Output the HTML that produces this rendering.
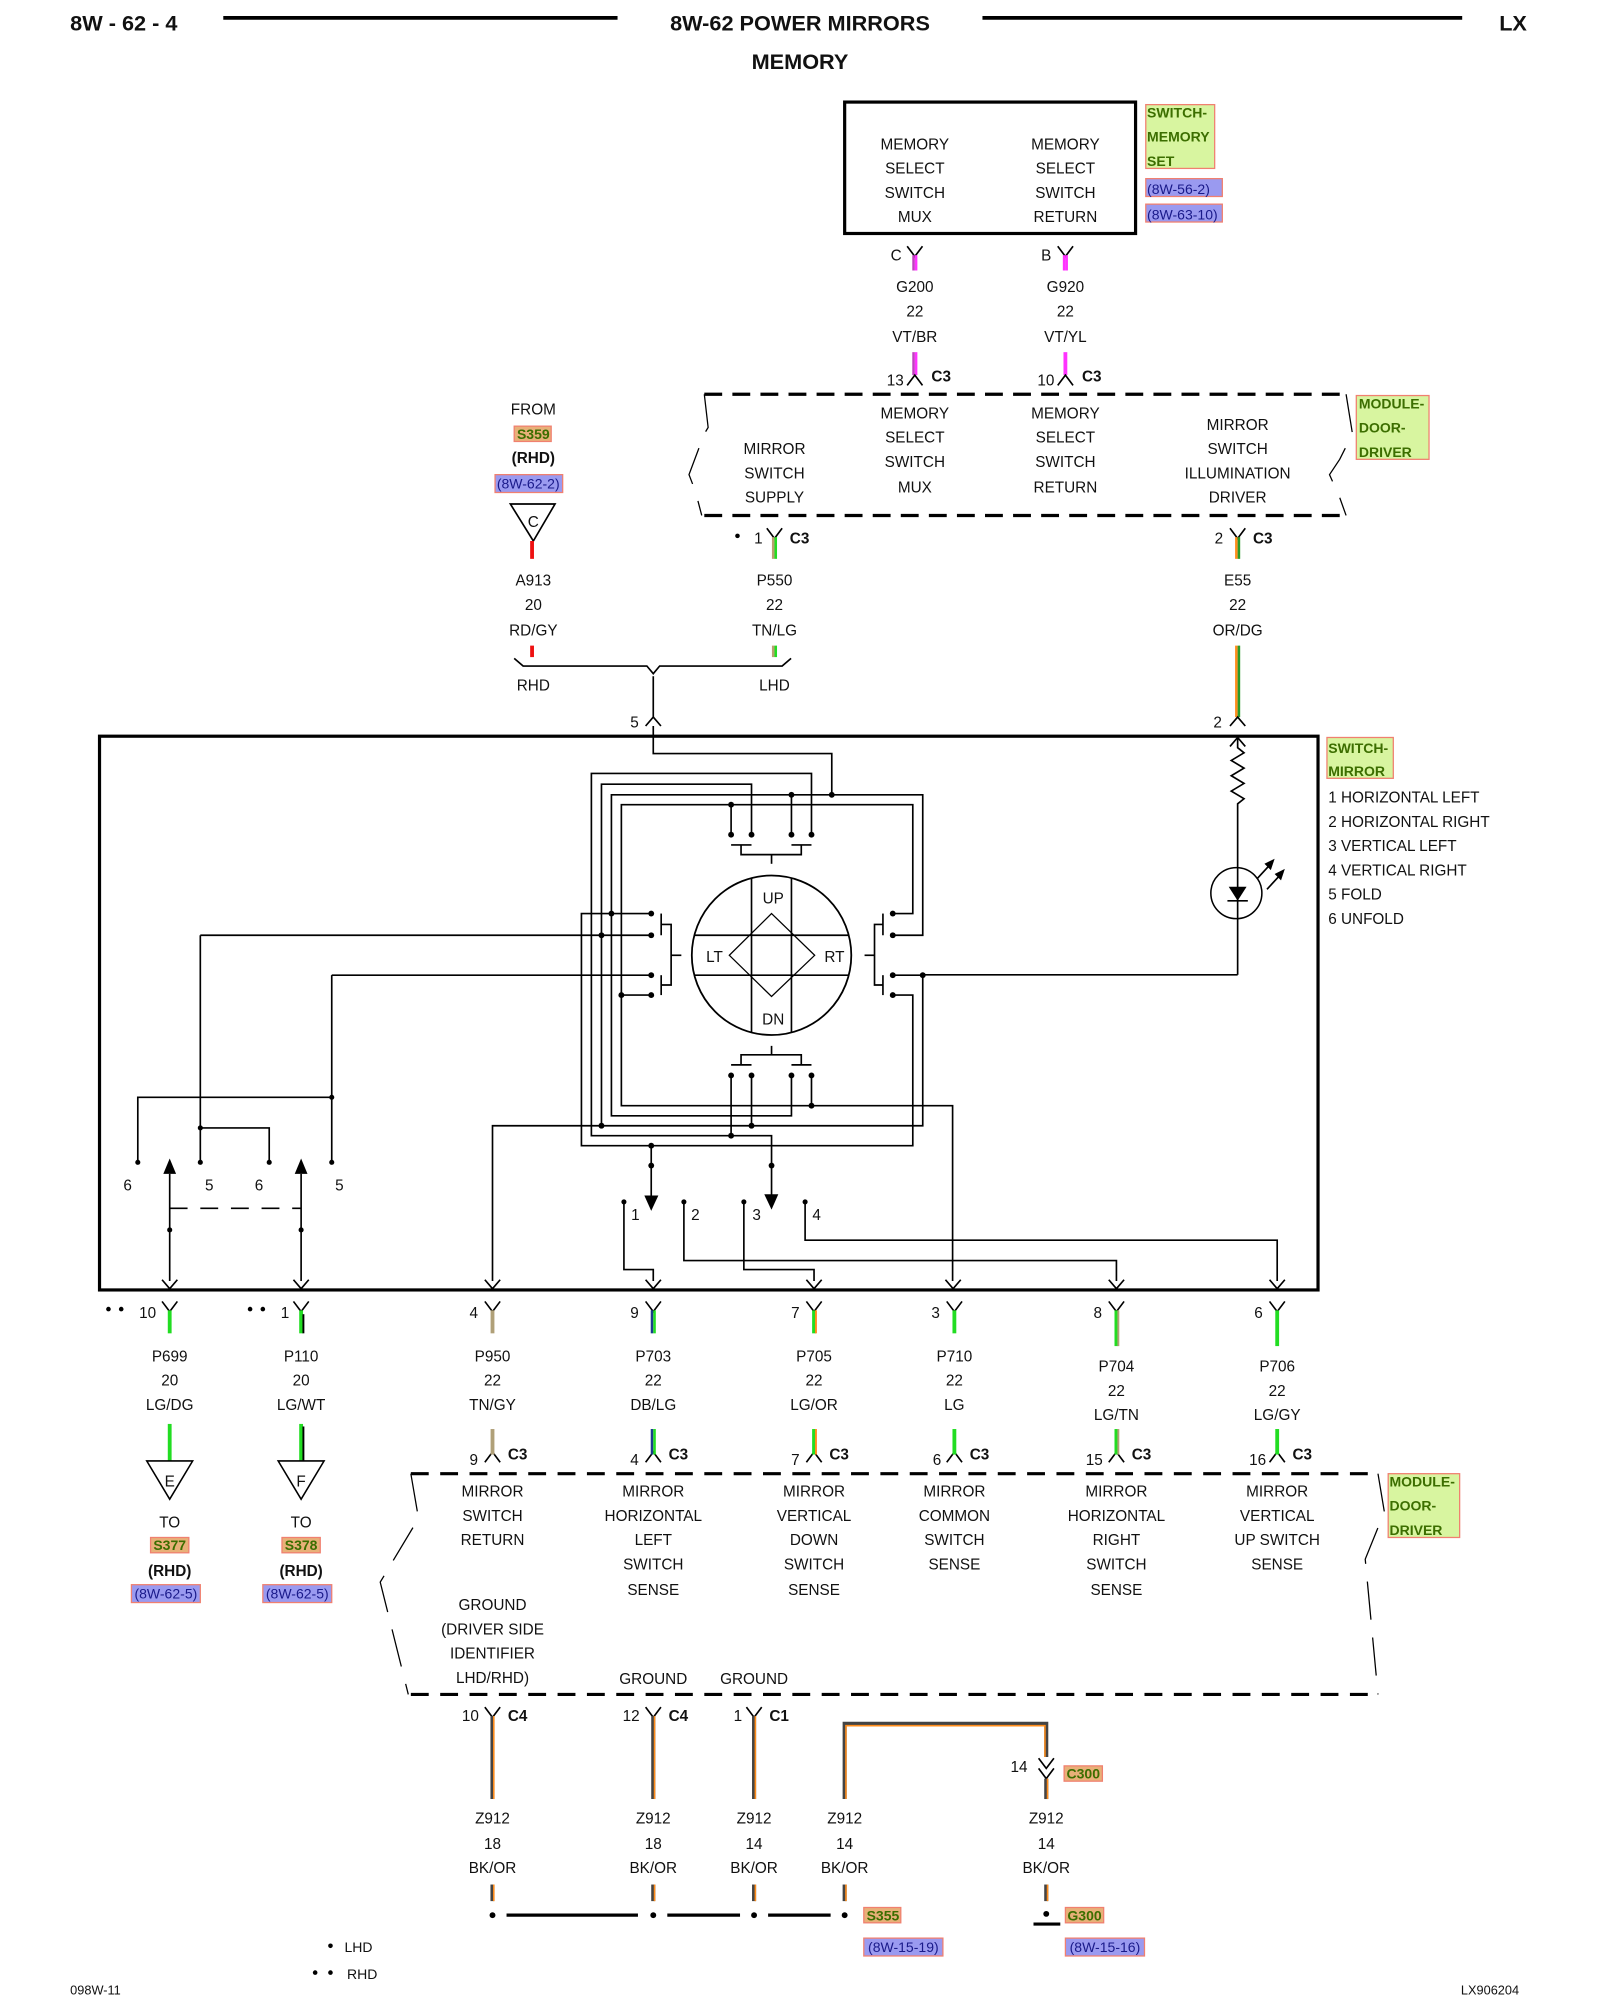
<!DOCTYPE html>
<html><head><meta charset="utf-8"><style>
html,body{margin:0;padding:0;background:#fff;}
svg{display:block;}
text{font-family:"Liberation Sans",sans-serif;font-size:12px;fill:#111;}
.m{text-anchor:middle;}
.b{font-weight:bold;}
.h{font-size:17px;font-weight:bold;}
.lg{font-size:11px;font-weight:bold;fill:#3c6e00;}
.rf{font-size:11px;fill:#1a1a8a;}
.w{stroke:#000;stroke-width:1.3;fill:none;}
</style></head><body>
<svg width="1600" height="2000" viewBox="0 0 1254 1567.5" preserveAspectRatio="xMinYMin meet" xmlns="http://www.w3.org/2000/svg">
<rect width="1254" height="1567.5" fill="#fff"/>
<!-- header -->
<text x="55" y="24" class="h">8W - 62 - 4</text>
<line x1="175" y1="14" x2="484" y2="14" stroke="#000" stroke-width="3"/>
<text x="627" y="24" class="h m">8W-62 POWER MIRRORS</text>
<line x1="770" y1="14" x2="1146" y2="14" stroke="#000" stroke-width="3"/>
<text x="1175" y="24" class="h">LX</text>
<text x="627" y="54" class="h m">MEMORY</text>

<!-- top switch box -->
<rect x="662" y="80" width="228" height="103" fill="none" stroke="#000" stroke-width="2.5"/>
<g class="m">
<text x="717" y="117" class="m">MEMORY</text><text x="717" y="136" class="m">SELECT</text><text x="717" y="155" class="m">SWITCH</text><text x="717" y="174" class="m">MUX</text>
<text x="835" y="117" class="m">MEMORY</text><text x="835" y="136" class="m">SELECT</text><text x="835" y="155" class="m">SWITCH</text><text x="835" y="174" class="m">RETURN</text>
</g>
<rect x="898" y="82" width="54" height="50" fill="#d8f5a0" stroke="#f08070"/>
<text x="899" y="92" class="lg">SWITCH-</text><text x="899" y="111" class="lg">MEMORY</text><text x="899" y="130" class="lg">SET</text>
<rect x="898" y="140" width="60" height="14" fill="#9a9af0" stroke="#f08070"/><text x="899" y="152" class="rf">(8W-56-2)</text>
<rect x="898" y="160" width="60" height="14" fill="#9a9af0" stroke="#f08070"/><text x="899" y="172" class="rf">(8W-63-10)</text>

<!-- memory wires -->
<polyline points="711,193 717,201 723,193" class="w"/><polyline points="829,193 835,201 841,193" class="w"/>
<text x="698" y="204">C</text><text x="816" y="204">B</text>
<line x1="716" y1="200" x2="716" y2="212" stroke="#c040c0" stroke-width="2"/><line x1="718" y1="200" x2="718" y2="212" stroke="#ff33ff" stroke-width="2"/>
<line x1="834" y1="200" x2="834" y2="212" stroke="#ff33ff" stroke-width="2"/><line x1="836" y1="200" x2="836" y2="212" stroke="#ff33ff" stroke-width="2"/>
<text x="717" y="229" class="m">G200</text><text x="717" y="248" class="m">22</text><text x="717" y="268" class="m">VT/BR</text>
<text x="835" y="229" class="m">G920</text><text x="835" y="248" class="m">22</text><text x="835" y="268" class="m">VT/YL</text>
<line x1="716" y1="276" x2="716" y2="294" stroke="#c040c0" stroke-width="2"/><line x1="718" y1="276" x2="718" y2="294" stroke="#ff33ff" stroke-width="2"/>
<line x1="835" y1="276" x2="835" y2="294" stroke="#ff33ff" stroke-width="3"/>
<polyline points="711,302 717,294 723,302" class="w"/><polyline points="829,302 835,294 841,302" class="w"/>
<text x="695" y="302">13</text><text x="730" y="299" class="b">C3</text>
<text x="813" y="302">10</text><text x="848" y="299" class="b">C3</text>

<!-- module upper -->
<line x1="552" y1="309" x2="1055" y2="309" stroke="#000" stroke-width="2.5" stroke-dasharray="14,8"/>
<line x1="552" y1="404" x2="1055" y2="404" stroke="#000" stroke-width="2.5" stroke-dasharray="14,8"/>
<polyline points="552,309 555,335 552,340 540,372 545,385 550,404" fill="none" stroke="#000" stroke-width="1" stroke-dasharray="30,14"/>
<polyline points="1055,309 1060,340 1050,360 1042,372 1050,390 1055,404" fill="none" stroke="#000" stroke-width="1" stroke-dasharray="30,14"/>
<text x="607" y="356" class="m">MIRROR</text><text x="607" y="375" class="m">SWITCH</text><text x="607" y="394" class="m">SUPPLY</text>
<text x="717" y="328" class="m">MEMORY</text><text x="717" y="347" class="m">SELECT</text><text x="717" y="366" class="m">SWITCH</text><text x="717" y="386" class="m">MUX</text>
<text x="835" y="328" class="m">MEMORY</text><text x="835" y="347" class="m">SELECT</text><text x="835" y="366" class="m">SWITCH</text><text x="835" y="386" class="m">RETURN</text>
<text x="970" y="337" class="m">MIRROR</text><text x="970" y="356" class="m">SWITCH</text><text x="970" y="375" class="m">ILLUMINATION</text><text x="970" y="394" class="m">DRIVER</text>
<rect x="1063" y="310" width="57" height="50" fill="#d8f5a0" stroke="#f08070"/>
<text x="1065" y="320" class="lg">MODULE-</text><text x="1065" y="339" class="lg">DOOR-</text><text x="1065" y="358" class="lg">DRIVER</text>

<!-- supply side -->
<circle cx="578" cy="420" r="1.8"/>
<polyline points="601,414 607,422 613,414" class="w"/><text x="591" y="426">1</text><text x="619" y="426" class="b">C3</text>
<line x1="606" y1="421" x2="606" y2="438" stroke="#b8a070" stroke-width="2"/><line x1="608" y1="421" x2="608" y2="438" stroke="#22dd22" stroke-width="2"/>
<text x="607" y="459" class="m">P550</text><text x="607" y="478" class="m">22</text><text x="607" y="498" class="m">TN/LG</text>
<line x1="606" y1="506" x2="606" y2="515" stroke="#b8a070" stroke-width="2"/><line x1="608" y1="506" x2="608" y2="515" stroke="#22dd22" stroke-width="2"/>
<text x="418" y="325" class="m">FROM</text>
<rect x="403" y="334" width="29" height="12" fill="#e8b078" stroke="#f08070"/><text x="418" y="344" class="m lg">S359</text>
<text x="418" y="363" class="m b">(RHD)</text>
<rect x="388" y="372" width="53" height="14" fill="#9a9af0" stroke="#f08070"/><text x="414" y="383" class="m rf">(8W-62-2)</text>
<polygon points="400,395 435,395 418,424" fill="#fff" stroke="#000" stroke-width="1.3"/><text x="418" y="413" class="m">C</text>
<line x1="417" y1="424" x2="417" y2="438" stroke="#ee1111" stroke-width="3"/>
<text x="418" y="459" class="m">A913</text><text x="418" y="478" class="m">20</text><text x="418" y="498" class="m">RD/GY</text>
<line x1="417" y1="506" x2="417" y2="515" stroke="#ee1111" stroke-width="3"/>
<polyline points="403,516 410,522 507,522 512,528 517,522 613,522 620,516" class="w"/>
<text x="418" y="541" class="m">RHD</text><text x="607" y="541" class="m">LHD</text>
<line x1="512" y1="530" x2="512" y2="562" class="w"/>
<polyline points="506,569 512,562 518,569" class="w"/><text x="494" y="570">5</text>

<!-- E55 -->
<polyline points="964,414 970,422 976,414" class="w"/><text x="952" y="426">2</text><text x="982" y="426" class="b">C3</text>
<line x1="969" y1="421" x2="969" y2="438" stroke="#ff8c1a" stroke-width="2"/><line x1="971" y1="421" x2="971" y2="438" stroke="#2a9a2a" stroke-width="2"/>
<text x="970" y="459" class="m">E55</text><text x="970" y="478" class="m">22</text><text x="970" y="498" class="m">OR/DG</text>
<line x1="969" y1="506" x2="969" y2="562" stroke="#ff8c1a" stroke-width="2"/><line x1="971" y1="506" x2="971" y2="562" stroke="#2a9a2a" stroke-width="2"/>
<polyline points="964,569 970,562 976,569" class="w"/><text x="951" y="570">2</text>

<!-- switch mirror box -->
<rect x="78" y="577" width="955" height="434" fill="none" stroke="#000" stroke-width="2.5"/>
<rect x="1040" y="578" width="52" height="32" fill="#d8f5a0" stroke="#f08070"/>
<text x="1041" y="590" class="lg">SWITCH-</text><text x="1041" y="608" class="lg">MIRROR</text>
<text x="1041" y="629">1 HORIZONTAL LEFT</text><text x="1041" y="648">2 HORIZONTAL RIGHT</text><text x="1041" y="667">3 VERTICAL LEFT</text><text x="1041" y="686">4 VERTICAL RIGHT</text><text x="1041" y="705">5 FOLD</text><text x="1041" y="724">6 UNFOLD</text>

<!-- LED / resistor -->
<polyline points="964,585 970,578 976,585" class="w"/>
<polyline points="970,578 970,586 975,590 965,596 975,602 965,608 975,614 965,620 975,626 970,630 970,680" class="w"/>
<circle cx="969" cy="700" r="20" fill="none" stroke="#000" stroke-width="1.2"/>
<line x1="970" y1="680" x2="970" y2="764" class="w"/>
<polygon points="963,695 977,695 970,706" fill="#000"/><line x1="962" y1="706" x2="978" y2="706" class="w"/>
<line x1="985" y1="689" x2="996" y2="677" class="w"/><polygon points="999,673 991,677 996,682" fill="#000"/>
<line x1="993" y1="697" x2="1004" y2="685" class="w"/><polygon points="1007,681 999,685 1004,690" fill="#000"/>
<polyline points="970,764 723,764" class="w"/>

<!-- circle joystick -->
<defs><clipPath id="cc"><circle cx="604.7" cy="748.7" r="62.5"/></clipPath></defs>
<circle cx="604.7" cy="748.7" r="62.5" fill="none" stroke="#000" stroke-width="1.4"/>
<g clip-path="url(#cc)" stroke="#000" stroke-width="1.3">
<line x1="589" y1="680" x2="589" y2="820"/><line x1="620.3" y1="680" x2="620.3" y2="820"/>
<line x1="540" y1="733" x2="670" y2="733"/><line x1="540" y1="764.3" x2="670" y2="764.3"/>
</g>
<polygon points="604.7,716 638.5,748.7 604.7,781 571.6,748.7" fill="none" stroke="#000" stroke-width="1"/>
<text x="606" y="708" class="m">UP</text><text x="606" y="803" class="m">DN</text><text x="560" y="754" class="m">LT</text><text x="654" y="754" class="m">RT</text>

<g class="w">
<polyline points="512,569 512,590.6 651.9,590.6 651.9,622.9"/>
<polyline points="636,654.2 636,606.2 463.5,606.2 463.5,890.1 604.7,890.1 604.7,938"/>
<polyline points="589,654.2 589,614.6 471.4,614.6 471.4,882.3 723.2,882.3 723.2,764.3 699.7,764.3"/>
<polyline points="699.7,733 723.2,733 723.2,622.9 479.2,622.9 479.2,874.5 620.3,874.5 620.3,842.9"/>
<polyline points="699.7,716 715.4,716 715.4,630.7 487,630.7 487,866.6 746.6,866.6 746.6,1004"/>
<polyline points="510.4,716 455.7,716 455.7,897.9 715.4,897.9 715.4,779.9 699.7,779.9"/>
<line x1="510.4" y1="897.9" x2="510.4" y2="940"/>
<line x1="636" y1="842.9" x2="636" y2="866.6"/>
<line x1="620.3" y1="622.9" x2="620.3" y2="654.2"/>
<line x1="573" y1="630.7" x2="573" y2="654.2"/>
<line x1="589" y1="842.9" x2="589" y2="882.3"/>
<line x1="573" y1="842.9" x2="573" y2="890.1"/>
<line x1="573" y1="662.2" x2="589" y2="662.2"/><line x1="620.3" y1="662.2" x2="636" y2="662.2"/>
<polyline points="580.8,662.2 580.8,669.8 628,669.8 628,662.2"/><line x1="604.7" y1="669.8" x2="604.7" y2="677"/>
<polyline points="604.7,819.7 604.7,826.7"/><polyline points="580.8,834.6 580.8,826.7 628,826.7 628,834.6"/>
<line x1="573" y1="834.6" x2="589" y2="834.6"/><line x1="620.3" y1="834.6" x2="636" y2="834.6"/>
<line x1="518.2" y1="716" x2="518.2" y2="733"/><line x1="518.2" y1="764.3" x2="518.2" y2="779.9"/>
<polyline points="518.2,724.5 526,724.5 526,772 518.2,772"/><line x1="526" y1="748.7" x2="534" y2="748.7"/>
<line x1="157" y1="733" x2="510.4" y2="733"/><line x1="260" y1="764.3" x2="510.4" y2="764.3"/>
<line x1="487" y1="779.9" x2="510.4" y2="779.9"/>
<line x1="692" y1="716" x2="692" y2="733"/><line x1="692" y1="764.3" x2="692" y2="779.9"/>
<polyline points="692,724.5 685.4,724.5 685.4,772 692,772"/><line x1="677.6" y1="748.7" x2="685.4" y2="748.7"/>
<polyline points="157,733 157,911"/><polyline points="157,884 211,884 211,911"/>
<polyline points="260,764.3 260,911"/><polyline points="260,860 108,860 108,911"/>
<line x1="133" y1="1004" x2="133" y2="920"/><line x1="236" y1="1004" x2="236" y2="920"/>
<line x1="133" y1="947" x2="236" y2="947" stroke-dasharray="14,10"/>
<polyline points="386,1004 386,882.3 471.4,882.3"/>
<polyline points="489,942 489,995 512,995 512,1004"/>
<polyline points="536,942 536,988 875,988 875,1004"/>
<polyline points="583,942 583,995 638,995 638,1004"/>
<polyline points="631,942 631,972 1001,972 1001,1004"/>
</g>
<polygon points="128,920 138,920 133,908" fill="#000"/><polygon points="231,920 241,920 236,908" fill="#000"/>
<polygon points="505,937 516,937 510.4,949" fill="#000"/><polygon points="599,936 610,936 604.7,948" fill="#000"/>
<g fill="#000">
<circle cx="651.9" cy="622.9" r="2.3"/><circle cx="620.3" cy="622.9" r="2.3"/><circle cx="573" cy="630.7" r="2.3"/>
<circle cx="573" cy="654.2" r="2.3"/><circle cx="589" cy="654.2" r="2.3"/><circle cx="620.3" cy="654.2" r="2.3"/><circle cx="636" cy="654.2" r="2.3"/>
<circle cx="573" cy="842.9" r="2.3"/><circle cx="589" cy="842.9" r="2.3"/><circle cx="620.3" cy="842.9" r="2.3"/><circle cx="636" cy="842.9" r="2.3"/>
<circle cx="636" cy="866.6" r="2.3"/><circle cx="589" cy="882.3" r="2.3"/><circle cx="573" cy="890.1" r="2.3"/><circle cx="471.4" cy="882.3" r="2.3"/>
<circle cx="510.4" cy="716" r="2.3"/><circle cx="510.4" cy="733" r="2.3"/><circle cx="510.4" cy="764.3" r="2.3"/><circle cx="510.4" cy="779.9" r="2.3"/>
<circle cx="479.2" cy="716" r="2.3"/><circle cx="471.4" cy="733" r="2.3"/><circle cx="487" cy="779.9" r="2.3"/>
<circle cx="699.7" cy="716" r="2.3"/><circle cx="699.7" cy="733" r="2.3"/><circle cx="699.7" cy="764.3" r="2.3"/><circle cx="699.7" cy="779.9" r="2.3"/><circle cx="723.2" cy="764.3" r="2.3"/>
<circle cx="510.4" cy="897.9" r="2.3"/><circle cx="510.4" cy="913.5" r="2.3"/><circle cx="604.7" cy="913.5" r="2.3"/>
<circle cx="157" cy="884" r="2"/><circle cx="260" cy="860" r="2"/>
<circle cx="108" cy="911" r="2"/><circle cx="157" cy="911" r="2"/><circle cx="211" cy="911" r="2"/><circle cx="260" cy="911" r="2"/>
<circle cx="133" cy="964" r="2"/><circle cx="236" cy="964" r="2"/>
<circle cx="489" cy="942" r="2"/><circle cx="536" cy="942" r="2"/><circle cx="583" cy="942" r="2"/><circle cx="631" cy="942" r="2"/>
</g>
<text x="100" y="933" class="m">6</text><text x="164" y="933" class="m">5</text><text x="203" y="933" class="m">6</text><text x="266" y="933" class="m">5</text>
<text x="498" y="956" class="m">1</text><text x="545" y="956" class="m">2</text><text x="593" y="956" class="m">3</text><text x="640" y="956" class="m">4</text>
<g class="w">
<polyline points="127,1003 133,1010 139,1003"/><polyline points="230,1003 236,1010 242,1003"/><polyline points="380,1003 386,1010 392,1003"/>
<polyline points="506,1003 512,1010 518,1003"/><polyline points="632,1003 638,1010 644,1003"/><polyline points="741,1003 747,1010 753,1003"/>
<polyline points="869,1003 875,1010 881,1003"/><polyline points="995,1003 1001,1010 1007,1003"/>
</g>

<!-- lower connectors -->
<g class="w">
<polyline points="127,1020 133,1028 139,1020"/><polyline points="230,1020 236,1028 242,1020"/><polyline points="380,1020 386,1028 392,1020"/>
<polyline points="506,1020 512,1028 518,1020"/><polyline points="632,1020 638,1028 644,1020"/><polyline points="742,1020 748,1028 754,1020"/>
<polyline points="869,1020 875,1028 881,1020"/><polyline points="995,1020 1001,1028 1007,1020"/>
<polyline points="380,1146 386,1138 392,1146"/><polyline points="506,1146 512,1138 518,1146"/><polyline points="632,1146 638,1138 644,1146"/>
<polyline points="742,1146 748,1138 754,1146"/><polyline points="869,1146 875,1138 881,1146"/><polyline points="995,1146 1001,1138 1007,1146"/>
</g>
<g fill="#000"><circle cx="85" cy="1026" r="1.8"/><circle cx="95" cy="1026" r="1.8"/><circle cx="196" cy="1026" r="1.8"/><circle cx="206" cy="1026" r="1.8"/></g>
<text x="109" y="1033">10</text><text x="220" y="1033">1</text><text x="368" y="1033">4</text><text x="494" y="1033">9</text><text x="620" y="1033">7</text><text x="730" y="1033">3</text><text x="857" y="1033">8</text><text x="983" y="1033">6</text>
<g stroke-width="3">
<line x1="133" y1="1027" x2="133" y2="1045" stroke="#22dd22"/><line x1="133" y1="1116" x2="133" y2="1146" stroke="#22dd22"/>
<line x1="236" y1="1027" x2="236" y2="1045" stroke="#22dd22"/><line x1="236" y1="1116" x2="236" y2="1146" stroke="#22dd22"/>
<line x1="386" y1="1027" x2="386" y2="1045" stroke="#b0a078"/><line x1="386" y1="1120" x2="386" y2="1140" stroke="#b0a078"/>
<line x1="638" y1="1027" x2="638" y2="1045" stroke="#22dd22"/><line x1="638" y1="1120" x2="638" y2="1140" stroke="#22dd22"/>
<line x1="748" y1="1027" x2="748" y2="1045" stroke="#22dd22"/><line x1="748" y1="1120" x2="748" y2="1140" stroke="#22dd22"/>
<line x1="875" y1="1027" x2="875" y2="1055" stroke="#22dd22"/><line x1="875" y1="1120" x2="875" y2="1140" stroke="#22dd22"/>
<line x1="1001" y1="1027" x2="1001" y2="1055" stroke="#22dd22"/><line x1="1001" y1="1120" x2="1001" y2="1140" stroke="#22dd22"/>
</g>
<g stroke-width="1.5">
<line x1="237.8" y1="1030" x2="237.8" y2="1045" stroke="#000"/><line x1="237.8" y1="1118" x2="237.8" y2="1146" stroke="#000"/>
<line x1="511" y1="1027" x2="511" y2="1045" stroke="#1b3c8c" stroke-width="2"/><line x1="513" y1="1027" x2="513" y2="1045" stroke="#22dd22" stroke-width="2"/>
<line x1="511" y1="1120" x2="511" y2="1140" stroke="#1b3c8c" stroke-width="2"/><line x1="513" y1="1120" x2="513" y2="1140" stroke="#22dd22" stroke-width="2"/>
<line x1="639.5" y1="1027" x2="639.5" y2="1045" stroke="#ff8c1a"/><line x1="639.5" y1="1120" x2="639.5" y2="1140" stroke="#ff8c1a"/>
<line x1="876.5" y1="1027" x2="876.5" y2="1055" stroke="#b0a078"/><line x1="876.5" y1="1120" x2="876.5" y2="1140" stroke="#b0a078"/>
</g>
<g>
<text x="133" y="1067" class="m">P699</text><text x="133" y="1086" class="m">20</text><text x="133" y="1105" class="m">LG/DG</text>
<text x="236" y="1067" class="m">P110</text><text x="236" y="1086" class="m">20</text><text x="236" y="1105" class="m">LG/WT</text>
<text x="386" y="1067" class="m">P950</text><text x="386" y="1086" class="m">22</text><text x="386" y="1105" class="m">TN/GY</text>
<text x="512" y="1067" class="m">P703</text><text x="512" y="1086" class="m">22</text><text x="512" y="1105" class="m">DB/LG</text>
<text x="638" y="1067" class="m">P705</text><text x="638" y="1086" class="m">22</text><text x="638" y="1105" class="m">LG/OR</text>
<text x="748" y="1067" class="m">P710</text><text x="748" y="1086" class="m">22</text><text x="748" y="1105" class="m">LG</text>
<text x="875" y="1075" class="m">P704</text><text x="875" y="1094" class="m">22</text><text x="875" y="1113" class="m">LG/TN</text>
<text x="1001" y="1075" class="m">P706</text><text x="1001" y="1094" class="m">22</text><text x="1001" y="1113" class="m">LG/GY</text>
</g>
<text x="368" y="1148">9</text><text x="398" y="1144" class="b">C3</text>
<text x="494" y="1148">4</text><text x="524" y="1144" class="b">C3</text>
<text x="620" y="1148">7</text><text x="650" y="1144" class="b">C3</text>
<text x="731" y="1148">6</text><text x="760" y="1144" class="b">C3</text>
<text x="851" y="1148">15</text><text x="887" y="1144" class="b">C3</text>
<text x="979" y="1148">16</text><text x="1013" y="1144" class="b">C3</text>
<polygon points="115,1145 151,1145 133,1175" fill="#fff" stroke="#000" stroke-width="1.2"/><text x="133" y="1165" class="m">E</text>
<polygon points="218,1145 254,1145 236,1175" fill="#fff" stroke="#000" stroke-width="1.2"/><text x="236" y="1165" class="m">F</text>
<text x="133" y="1197" class="m">TO</text><text x="236" y="1197" class="m">TO</text>
<rect x="118" y="1205" width="30" height="12" fill="#e8b078" stroke="#f08070"/><text x="133" y="1215" class="m lg">S377</text>
<rect x="221" y="1205" width="30" height="12" fill="#e8b078" stroke="#f08070"/><text x="236" y="1215" class="m lg">S378</text>
<text x="133" y="1235" class="m b">(RHD)</text><text x="236" y="1235" class="m b">(RHD)</text>
<rect x="103" y="1242" width="54" height="14" fill="#9a9af0" stroke="#f08070"/><text x="130" y="1253" class="m rf">(8W-62-5)</text>
<rect x="206" y="1242" width="54" height="14" fill="#9a9af0" stroke="#f08070"/><text x="233" y="1253" class="m rf">(8W-62-5)</text>

<!-- lower module -->
<line x1="322" y1="1155" x2="1080" y2="1155" stroke="#000" stroke-width="2.5" stroke-dasharray="14,9"/>
<line x1="322" y1="1328" x2="1080" y2="1328" stroke="#000" stroke-width="2.5" stroke-dasharray="14,9"/>
<polyline points="322,1155 328,1190 298,1240 320,1328" fill="none" stroke="#000" stroke-width="1" stroke-dasharray="30,14"/>
<polyline points="1080,1155 1085,1185 1070,1222 1080,1328" fill="none" stroke="#000" stroke-width="1" stroke-dasharray="30,14"/>
<rect x="1088" y="1155" width="56" height="50" fill="#d8f5a0" stroke="#f08070"/>
<text x="1089" y="1165" class="lg">MODULE-</text><text x="1089" y="1184" class="lg">DOOR-</text><text x="1089" y="1203" class="lg">DRIVER</text>
<text x="386" y="1173" class="m">MIRROR</text><text x="386" y="1192" class="m">SWITCH</text><text x="386" y="1211" class="m">RETURN</text>
<text x="386" y="1262" class="m">GROUND</text><text x="386" y="1281" class="m">(DRIVER SIDE</text><text x="386" y="1300" class="m">IDENTIFIER</text><text x="386" y="1319" class="m">LHD/RHD)</text>
<text x="512" y="1173" class="m">MIRROR</text><text x="512" y="1192" class="m">HORIZONTAL</text><text x="512" y="1211" class="m">LEFT</text><text x="512" y="1230" class="m">SWITCH</text><text x="512" y="1250" class="m">SENSE</text>
<text x="638" y="1173" class="m">MIRROR</text><text x="638" y="1192" class="m">VERTICAL</text><text x="638" y="1211" class="m">DOWN</text><text x="638" y="1230" class="m">SWITCH</text><text x="638" y="1250" class="m">SENSE</text>
<text x="748" y="1173" class="m">MIRROR</text><text x="748" y="1192" class="m">COMMON</text><text x="748" y="1211" class="m">SWITCH</text><text x="748" y="1230" class="m">SENSE</text>
<text x="875" y="1173" class="m">MIRROR</text><text x="875" y="1192" class="m">HORIZONTAL</text><text x="875" y="1211" class="m">RIGHT</text><text x="875" y="1230" class="m">SWITCH</text><text x="875" y="1250" class="m">SENSE</text>
<text x="1001" y="1173" class="m">MIRROR</text><text x="1001" y="1192" class="m">VERTICAL</text><text x="1001" y="1211" class="m">UP SWITCH</text><text x="1001" y="1230" class="m">SENSE</text>
<text x="512" y="1320" class="m">GROUND</text><text x="591" y="1320" class="m">GROUND</text>

<!-- ground wires -->
<g class="w">
<polyline points="380,1338 386,1346 392,1338"/><polyline points="506,1338 512,1346 518,1338"/><polyline points="585,1338 591,1346 597,1338"/>
<polyline points="814,1378 820,1386 826,1378"/><polyline points="814,1386 820,1394 826,1386"/>
</g>
<text x="362" y="1349">10</text><text x="398" y="1349" class="b">C4</text>
<text x="488" y="1349">12</text><text x="524" y="1349" class="b">C4</text>
<text x="575" y="1349">1</text><text x="603" y="1349" class="b">C1</text>
<text x="792" y="1389">14</text>
<rect x="834" y="1384" width="30" height="12" fill="#e8b078" stroke="#f08070"/><text x="849" y="1394" class="m lg">C300</text>
<g fill="none">
<g stroke="#444" stroke-width="3.2"><line x1="386" y1="1345" x2="386" y2="1410"/><line x1="512" y1="1345" x2="512" y2="1410"/><line x1="591" y1="1345" x2="591" y2="1410"/>
<polyline points="662,1410 662,1351 820,1351 820,1377"/><line x1="820" y1="1394" x2="820" y2="1410"/>
<line x1="386" y1="1477" x2="386" y2="1490"/><line x1="512" y1="1477" x2="512" y2="1490"/><line x1="591" y1="1477" x2="591" y2="1490"/><line x1="662" y1="1477" x2="662" y2="1490"/><line x1="820" y1="1477" x2="820" y2="1490"/></g>
<g stroke="#ff8c1a" stroke-width="1.2"><line x1="387" y1="1345" x2="387" y2="1410"/><line x1="513" y1="1345" x2="513" y2="1410"/><line x1="592" y1="1345" x2="592" y2="1410"/>
<polyline points="663,1410 663,1352.5 819,1352.5 819,1377"/><line x1="821" y1="1394" x2="821" y2="1410"/>
<line x1="387" y1="1477" x2="387" y2="1490"/><line x1="513" y1="1477" x2="513" y2="1490"/><line x1="592" y1="1477" x2="592" y2="1490"/><line x1="663" y1="1477" x2="663" y2="1490"/><line x1="821" y1="1477" x2="821" y2="1490"/></g>
</g>
<text x="386" y="1429" class="m">Z912</text><text x="386" y="1449" class="m">18</text><text x="386" y="1468" class="m">BK/OR</text>
<text x="512" y="1429" class="m">Z912</text><text x="512" y="1449" class="m">18</text><text x="512" y="1468" class="m">BK/OR</text>
<text x="591" y="1429" class="m">Z912</text><text x="591" y="1449" class="m">14</text><text x="591" y="1468" class="m">BK/OR</text>
<text x="662" y="1429" class="m">Z912</text><text x="662" y="1449" class="m">14</text><text x="662" y="1468" class="m">BK/OR</text>
<text x="820" y="1429" class="m">Z912</text><text x="820" y="1449" class="m">14</text><text x="820" y="1468" class="m">BK/OR</text>
<g fill="#000"><circle cx="386" cy="1501" r="2.3"/><circle cx="512" cy="1501" r="2.3"/><circle cx="591" cy="1501" r="2.3"/><circle cx="662" cy="1501" r="2.3"/><circle cx="820" cy="1500" r="2.3"/></g>
<g stroke="#000" stroke-width="2.5"><line x1="397" y1="1501" x2="500" y2="1501"/><line x1="523" y1="1501" x2="580" y2="1501"/><line x1="602" y1="1501" x2="651" y2="1501"/><line x1="810" y1="1508" x2="831" y2="1508"/></g>
<rect x="677" y="1495" width="29" height="12" fill="#e8b078" stroke="#f08070"/><text x="692" y="1505" class="m lg">S355</text>
<rect x="835" y="1495" width="30" height="12" fill="#e8b078" stroke="#f08070"/><text x="850" y="1505" class="m lg">G300</text>
<rect x="677" y="1519" width="62" height="14" fill="#9a9af0" stroke="#f08070"/><text x="708" y="1530" class="m rf">(8W-15-19)</text>
<rect x="835" y="1519" width="62" height="14" fill="#9a9af0" stroke="#f08070"/><text x="866" y="1530" class="m rf">(8W-15-16)</text>
<circle cx="259" cy="1525" r="1.8"/><text x="270" y="1530" style="font-size:11px">LHD</text>
<circle cx="247" cy="1546" r="1.8"/><circle cx="259" cy="1546" r="1.8"/><text x="272" y="1551" style="font-size:11px">RHD</text>
<text x="55" y="1563" style="font-size:10px">098W-11</text>
<text x="1145" y="1563" style="font-size:10px">LX906204</text>
</svg>
</body></html>
